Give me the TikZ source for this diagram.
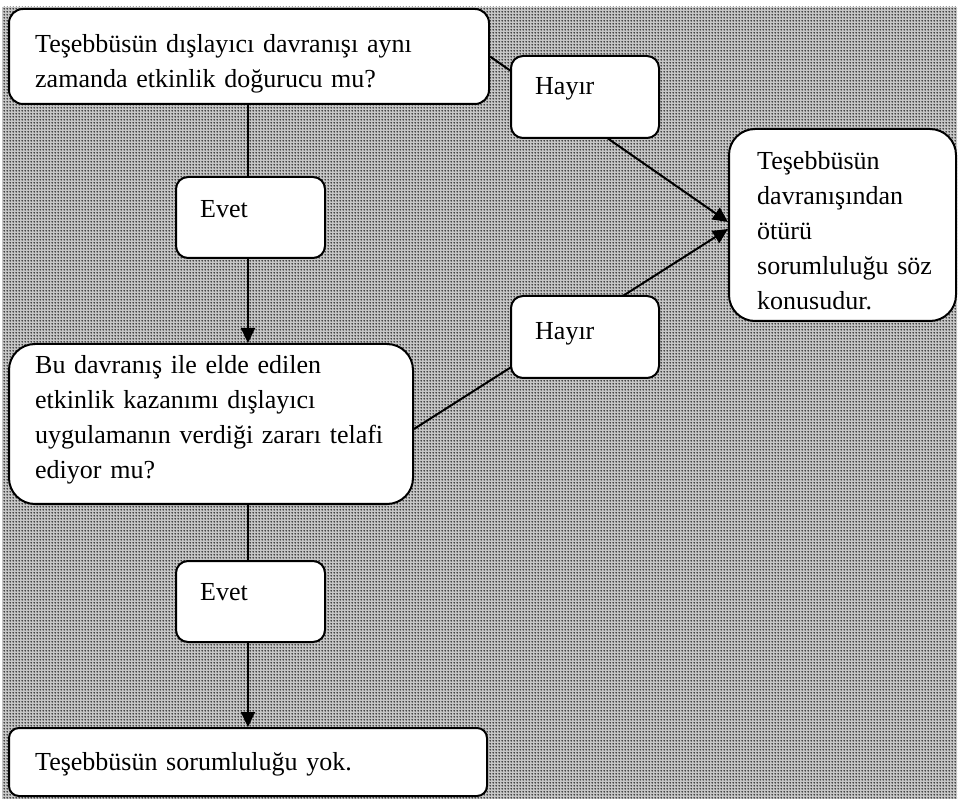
\documentclass[tikz,border=0pt]{standalone}
\usepackage{fontspec}
\setmainfont{Liberation Serif}
\usetikzlibrary{arrows.meta,patterns.meta,calc}

% fine dot screen for the backdrop
\tikzdeclarepattern{
  name=finedots, type=uncolored,
  bounding box={(0pt,0pt) and (3pt,3pt)},
  tile size={(3pt,3pt)},
  code={\fill (1.5pt,1.5pt) circle (1pt);}
}

\begin{document}
\begin{tikzpicture}[x=1pt,y=-1pt,
  box/.style={rectangle, draw, line width=2pt, fill=white,
    rounded corners=#1, inner sep=0pt, anchor=north west},
  box/.default=12pt,
  txt/.style={anchor=base west, inner sep=0pt, align=left,
    font=\fontsize{26}{35}\selectfont},
  arrow/.style={line width=2pt, -{Triangle[length=15pt,width=14pt]}}
]
\useasboundingbox (0,0) rectangle (959,799);

% dotted backdrop
\fill[gray!45] (2,7) rectangle (957,799);
\fill[pattern=finedots, pattern color=black!90] (2,7) rectangle (957,799);

% main boxes
\node[box=14pt, minimum width=480pt, minimum height=95pt] (q1) at (8,8) {};
\node[box=26pt, minimum width=227pt, minimum height=192pt] (res) at (728,128) {};
\node[box=26pt, minimum width=404pt, minimum height=160pt] (q2) at (8,343) {};
\node[box=10pt, minimum width=478pt, minimum height=68pt] (end) at (8,727) {};

\node[txt, text width=460pt] (q1t) at (35,53)
  {Teşebbüsün dışlayıcı davranışı aynı\\zamanda etkinlik doğurucu mu?};
\node[txt, text width=200pt] (rest) at (757,170)
  {Teşebbüsün\\davranışından\\ötürü\\sorumluluğu söz\\konusudur.};
\node[txt, text width=380pt] (q2t) at (35,374)
  {Bu davranış ile elde edilen\\etkinlik kazanımı dışlayıcı\\uygulamanın verdiği zararı telafi\\ediyor mu?};
\node[txt, text width=440pt] (endt) at (35,770) {Teşebbüsün sorumluluğu yok.};

% connectors
\coordinate (spine) at (248,0);
\draw[arrow] (q1.south -| spine) -- (q2.north -| spine);
\draw[arrow] (q2.south -| spine) -- (end.north -| spine);
\draw[arrow] (q1.east) -- ($(res.west)+(0,-3)$);
\draw[arrow] ($(q2.east)+(0,5)$) -- ($(res.west)+(0,4)$);

% answer labels sitting on the connectors
\node[box, minimum width=148pt, minimum height=82pt] (no1) at (510,55) {};
\node[txt] (no1t) at (535,95) {Hayır};
\node[box, minimum width=148pt, minimum height=82pt] (no2) at (510,295) {};
\node[txt] (no2t) at (535,340) {Hayır};
\node[box, minimum width=149pt, minimum height=81pt] (yes1) at (175,176) {};
\node[txt] (yes1t) at (200,218) {Evet};
\node[box, minimum width=149pt, minimum height=81pt] (yes2) at (175,560) {};
\node[txt] (yes2t) at (200,600) {Evet};
\end{tikzpicture}
\end{document}
